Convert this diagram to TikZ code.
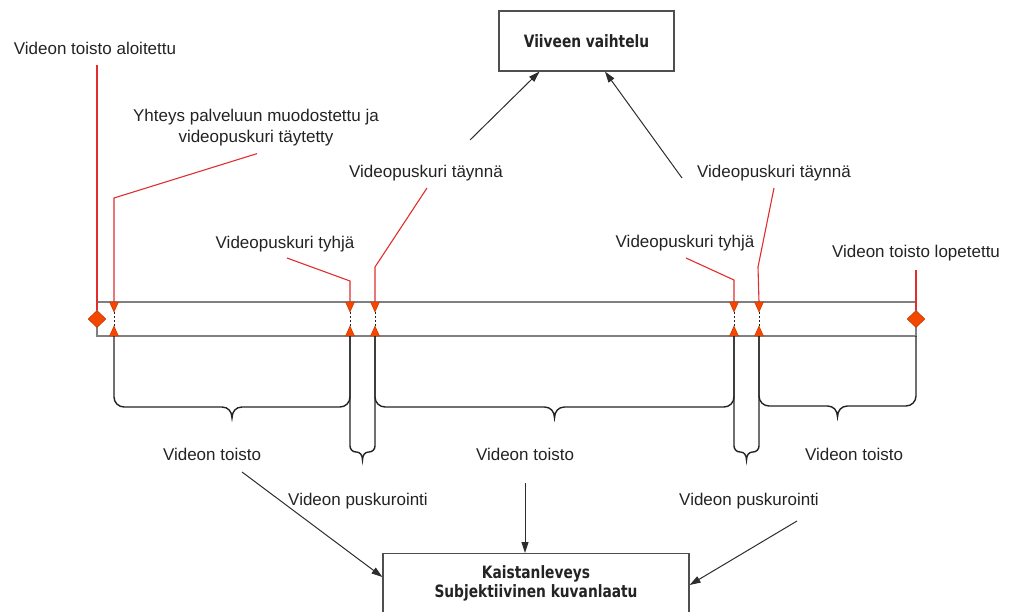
\documentclass[tikz,border=0pt]{standalone}
\usepackage{fontspec}
\setmainfont{Liberation Sans}
\newfontfamily\boxfont{DejaVu Sans}[FakeStretch=0.81]
\usetikzlibrary{arrows.meta,shapes.geometric}

\definecolor{leaderred}{RGB}{225,45,45}
\definecolor{markfill}{RGB}{242,72,0}
\definecolor{markedge}{RGB}{190,45,0}
\definecolor{bargray}{RGB}{128,128,128}
\definecolor{inkgray}{RGB}{35,35,35}
\definecolor{arrowgray}{RGB}{45,45,45}

% a curly span under the time bar: left x, right x, top y, level y, corner radius, tip depth
\newcommand\spanbrace[6]{%
  \draw[braceline] (#1,#3) -- (#1,{#4-#5})
    .. controls (#1,{#4-0.45*#5}) and ({#1+0.45*#5},#4) .. ({#1+#5},#4)
    -- ({(#1+#2)/2-#5},#4)
    .. controls ({(#1+#2)/2-0.4*#5},#4) and ({(#1+#2)/2},{#4+0.4*#6}) .. ({(#1+#2)/2},{#4+#6})
    .. controls ({(#1+#2)/2},{#4+0.4*#6}) and ({(#1+#2)/2+0.4*#5},#4) .. ({(#1+#2)/2+#5},#4)
    -- ({#2-#5},#4)
    .. controls ({#2-0.45*#5},#4) and (#2,{#4-0.45*#5}) .. (#2,{#4-#5})
    -- (#2,#3);}

\tikzset{
  lbl/.style={font=\fontsize{17}{21}\selectfont, text=inkgray, inner sep=0pt, align=center},
  leader/.style={draw=leaderred, line width=1.1pt},
  braceline/.style={draw=inkgray, line width=1.4pt},
  flowarrow/.style={draw=arrowgray, line width=1pt, -{Triangle[length=11pt,width=7pt]}},
  topicbox/.style={draw=inkgray!80, line width=1.2pt, fill=white, text=inkgray,
    font=\boxfont\bfseries\fontsize{17}{18.5}\selectfont, align=center},
  endmark/.style={diamond, fill=markfill, draw=markedge, line width=0.4pt,
    inner sep=0pt, minimum width=18pt, minimum height=17pt},
  markpair/.pic={
    \filldraw[fill=markfill, draw=markedge, line width=0.4pt] (-4.5,0) -- (4.5,0) -- (0,10) -- cycle;
    \filldraw[fill=markfill, draw=markedge, line width=0.4pt] (-4.5,34) -- (4.5,34) -- (0,24) -- cycle;
    \draw[inkgray, line width=0.8pt, dash pattern=on 2pt off 2pt] (0,10) -- (0,24);
  }
}

\begin{document}
\begin{tikzpicture}[x=1pt,y=-1pt]
\useasboundingbox (0,0) rectangle (1011,611);
\clip (0,0) rectangle (1011,611);

% time bar
\draw[draw=bargray, line width=1.5pt] (97,302) rectangle (916,336);

% event markers on the bar
\coordinate (m1) at (114,302);
\coordinate (m2) at (350,302);
\coordinate (m3) at (375,302);
\coordinate (m4) at (734,302);
\coordinate (m5) at (759,302);
\foreach \m in {m1,m2,m3,m4,m5} \pic at (\m) {markpair};
\node[endmark] (dstart) at (97,319) {};
\node[endmark] (dend) at (916,319) {};

% event labels
\node[lbl, anchor=base] (lstart) at (95,54) {Videon toisto aloitettu};
\node[lbl] (lconn) at (256,128) {Yhteys palveluun muodostettu ja\\videopuskuri täytetty};
\node[lbl, anchor=base] (lempty1) at (285,248) {Videopuskuri tyhjä};
\node[lbl, anchor=base] (lfull1) at (426,177) {Videopuskuri täynnä};
\node[lbl, anchor=base] (lempty2) at (685,247) {Videopuskuri tyhjä};
\node[lbl, anchor=base] (lfull2) at (774,177) {Videopuskuri täynnä};
\node[lbl, anchor=base] (lend) at (916,257) {Videon toisto lopetettu};

% leader lines from labels to markers
\draw[leader] ([xshift=2pt,yshift=-11pt]lstart.base) -- (dstart.north);
\draw[leader] ([xshift=1pt,yshift=-7pt]lconn.south) -- (114,198) -- (m1);
\draw[leader] ([xshift=2pt,yshift=-10pt]lempty1.base) -- (350,281) -- (m2);
\draw[leader] ([xshift=1pt,yshift=-11pt]lfull1.base) -- (375,267) -- (m3);
\draw[leader] ([xshift=1pt,yshift=-11pt]lempty2.base) -- (734,280) -- (m4);
\draw[leader] ([yshift=-11pt]lfull2.base) -- (758,267) -- (m5);
\draw[leader] ([yshift=-13pt]lend.base) -- (dend.north);

% spans under the bar
\spanbrace{114}{350}{336}{407}{10}{11}
\spanbrace{350}{375}{336}{452}{6}{8}
\spanbrace{375}{734}{336}{407}{10}{11}
\spanbrace{734}{759}{336}{452}{6}{8}
\spanbrace{759}{916}{336}{406}{10}{11}

% span labels
\node[lbl, anchor=base] (play1) at (212,460) {Videon toisto};
\node[lbl, anchor=base] (play2) at (525,460) {Videon toisto};
\node[lbl, anchor=base] (play3) at (854,460) {Videon toisto};
\node[lbl, anchor=base] (buf1) at (358,505) {Videon puskurointi};
\node[lbl, anchor=base] (buf2) at (749,505) {Videon puskurointi};

% quality boxes
\node[topicbox, minimum width=175pt, minimum height=60pt] (delay) at (586.5,41) {Viiveen vaihtelu};
\node[topicbox, anchor=north, minimum width=306pt, inner ysep=12pt] (quality) at (536,553)
  {Kaistanleveys\\Subjektiivinen kuvanlaatu\\[4pt]\strut};

% influence arrows
\coordinate (f1) at (470,140);
\coordinate (f2) at (682,178);
\coordinate (p1) at (242,472);
\coordinate (p2) at (525,483);
\coordinate (p3) at (797,521);
\draw[flowarrow] (f1) -- ([xshift=-47pt]delay.south);
\draw[flowarrow] (f2) -- ([xshift=18.5pt]delay.south);
\draw[flowarrow] (p1) -- (quality.west |- 0,577);
\draw[flowarrow] (p2) -- (quality.north -| p2);
\draw[flowarrow] (p3) -- (quality.east |- 0,585);
\end{tikzpicture}
\end{document}
